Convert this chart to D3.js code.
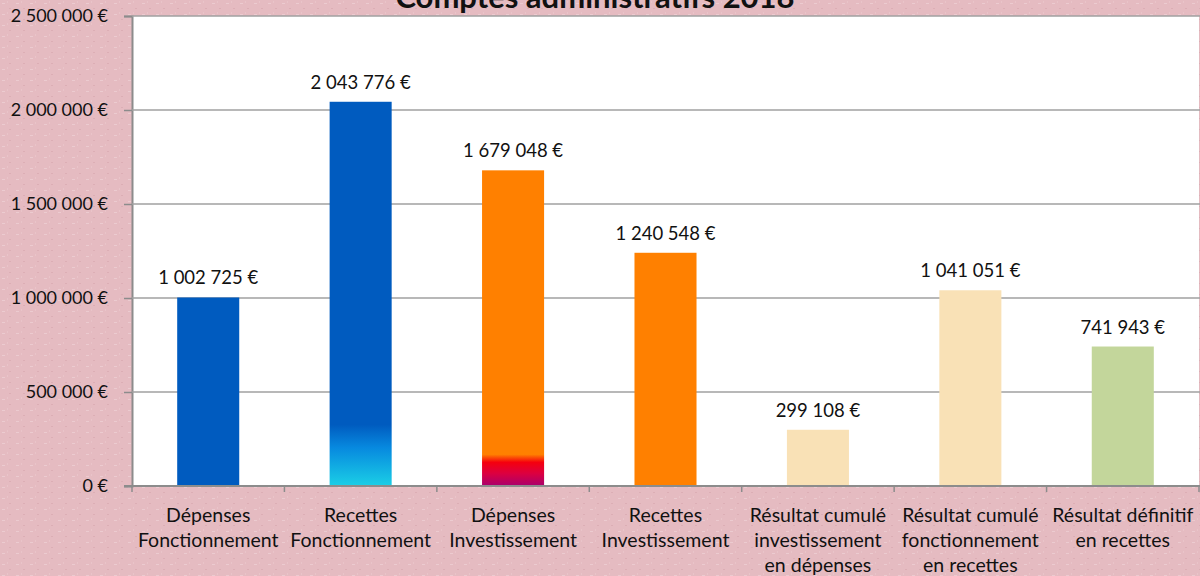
<!DOCTYPE html>
<html>
<head>
<meta charset="utf-8">
<script src="https://cdn.jsdelivr.net/npm/d3@7"></script>
<style>
  html, body { margin: 0; padding: 0; }
  body { width: 1200px; height: 576px; overflow: hidden; }
  text { font-family: Lato, "Open Sans", sans-serif; fill: #111; }
</style>
</head>
<body>
<div id="chart"></div>
<script>
const title = "Comptes administratifs 2018";
const categories = [
    ["Dépenses", "Fonctionnement"],
    ["Recettes", "Fonctionnement"],
    ["Dépenses", "Investissement"],
    ["Recettes", "Investissement"],
    ["Résultat cumulé", "investissement", "en dépenses"],
    ["Résultat cumulé", "fonctionnement", "en recettes"],
    ["Résultat définitif", "en recettes"]
];
const values = [1002725, 2043776, 1679048, 1240548, 299108, 1041051, 741943];
const yTicks = [0, 500000, 1000000, 1500000, 2000000, 2500000];

// fill of each bar: plain colour or gradient id
const fills = ["#005bbf", "url(#gradRF)", "url(#gradDI)", "#ff8000", "#f9e1b6", "#f9e1b6", "#c3d69b"];

const width = 1200, height = 576;
const margin = { top: 16, right: 1, bottom: 90, left: 132 };

const svg = d3.select("#chart").append("svg")
    .attr("width", width)
    .attr("height", height);

const defs = svg.append("defs");

// pink textured background
const pat = defs.append("pattern")
    .attr("id", "paper")
    .attr("width", 14).attr("height", 11)
    .attr("patternUnits", "userSpaceOnUse");
pat.append("rect").attr("width", 14).attr("height", 11).attr("fill", "#e5bbc1");
pat.append("rect").attr("x", 2).attr("y", 3).attr("width", 3).attr("height", 1).attr("fill", "#eccbd0");
pat.append("rect").attr("x", 9).attr("y", 8).attr("width", 2).attr("height", 1).attr("fill", "#dcaeb5");
pat.append("rect").attr("x", 7).attr("y", 1).attr("width", 1).attr("height", 2).attr("fill", "#e9c4c9");

svg.append("rect")
    .attr("width", width).attr("height", height)
    .attr("fill", "url(#paper)");

function gradient(id, stops) {
    const g = defs.append("linearGradient")
        .attr("id", id)
        .attr("x1", 0).attr("y1", 0).attr("x2", 0).attr("y2", 1);
    stops.forEach(s => g.append("stop").attr("offset", s[0]).attr("stop-color", s[1]));
}
gradient("gradRF", [[0, "#005bbf"], [0.84, "#005bbf"], [0.9, "#0789df"], [1, "#1bcfe6"]]);
gradient("gradDI", [[0, "#ff8000"], [0.9, "#ff8000"], [0.925, "#f5000e"], [0.96, "#dc0040"], [1, "#a8006e"]]);

const x = d3.scaleBand()
    .domain(d3.range(categories.length))
    .range([margin.left, width - margin.right])
    .paddingInner(0.593)
    .paddingOuter(0.2965);

const y = d3.scaleLinear()
    .domain([0, 2500000])
    .range([height - margin.bottom, margin.top]);

// plot area
svg.append("rect")
    .attr("x", margin.left).attr("y", margin.top)
    .attr("width", width - margin.right - margin.left)
    .attr("height", y(0) - margin.top)
    .attr("fill", "#fff");

const fmt = v => d3.format(",")(v).replace(/,/g, " ") + " €";

// y axis with gridlines
const yAxis = svg.append("g")
    .attr("transform", `translate(${margin.left},0)`)
    .call(d3.axisLeft(y).tickValues(yTicks).tickSize(8).tickPadding(16).tickFormat(fmt));
yAxis.select(".domain").attr("stroke", "#8c8c8c").attr("stroke-width", 2);
yAxis.selectAll(".tick line").attr("stroke", "#8c8c8c").attr("stroke-width", 1.5);
yAxis.selectAll(".tick text").style("font-size", "18px").attr("fill", "#111");

svg.append("g").selectAll("line")
    .data(yTicks.filter(d => d > 0))
    .join("line")
    .attr("x1", margin.left).attr("x2", width)
    .attr("y1", d => y(d)).attr("y2", d => y(d))
    .attr("stroke", "#a0a0a0").attr("stroke-width", 1.5);

// bars
svg.append("g").selectAll("rect")
    .data(values)
    .join("rect")
    .attr("x", (d, i) => x(i))
    .attr("width", x.bandwidth())
    .attr("y", d => y(d))
    .attr("height", d => y(0) - y(d))
    .attr("fill", (d, i) => fills[i]);

// value labels
svg.append("g").selectAll("text")
    .data(values)
    .join("text")
    .attr("x", (d, i) => x(i) + x.bandwidth() / 2)
    .attr("y", d => y(d) - 13)
    .attr("text-anchor", "middle")
    .style("font-size", "18.5px")
    .text(d => fmt(d));

// x axis
const step = x.step();
const xAxis = svg.append("g");
xAxis.append("line")
    .attr("x1", margin.left - 8).attr("x2", width)
    .attr("y1", y(0)).attr("y2", y(0))
    .attr("stroke", "#8c8c8c").attr("stroke-width", 2);
xAxis.selectAll(".tk")
    .data(d3.range(categories.length + 1))
    .join("line")
    .attr("class", "tk")
    .attr("x1", i => margin.left + i * step).attr("x2", i => margin.left + i * step)
    .attr("y1", y(0)).attr("y2", y(0) + 6)
    .attr("stroke", "#8c8c8c").attr("stroke-width", 1.5);

const labels = xAxis.selectAll(".cat")
    .data(categories)
    .join("text")
    .attr("class", "cat")
    .attr("text-anchor", "middle")
    .style("font-size", "19.5px");
labels.selectAll("tspan")
    .data((d, i) => d.map(line => ({ line, i })))
    .join("tspan")
    .attr("x", d => x(d.i) + x.bandwidth() / 2)
    .attr("y", (d, j) => y(0) + 36 + j * 25)
    .text(d => d.line);

// title (cut by the top of the picture)
svg.append("text")
    .attr("x", 595)
    .attr("y", 8)
    .attr("text-anchor", "middle")
    .style("font-size", "31px")
    .style("font-weight", "bold")
    .text(title);
</script>
</body>
</html>
